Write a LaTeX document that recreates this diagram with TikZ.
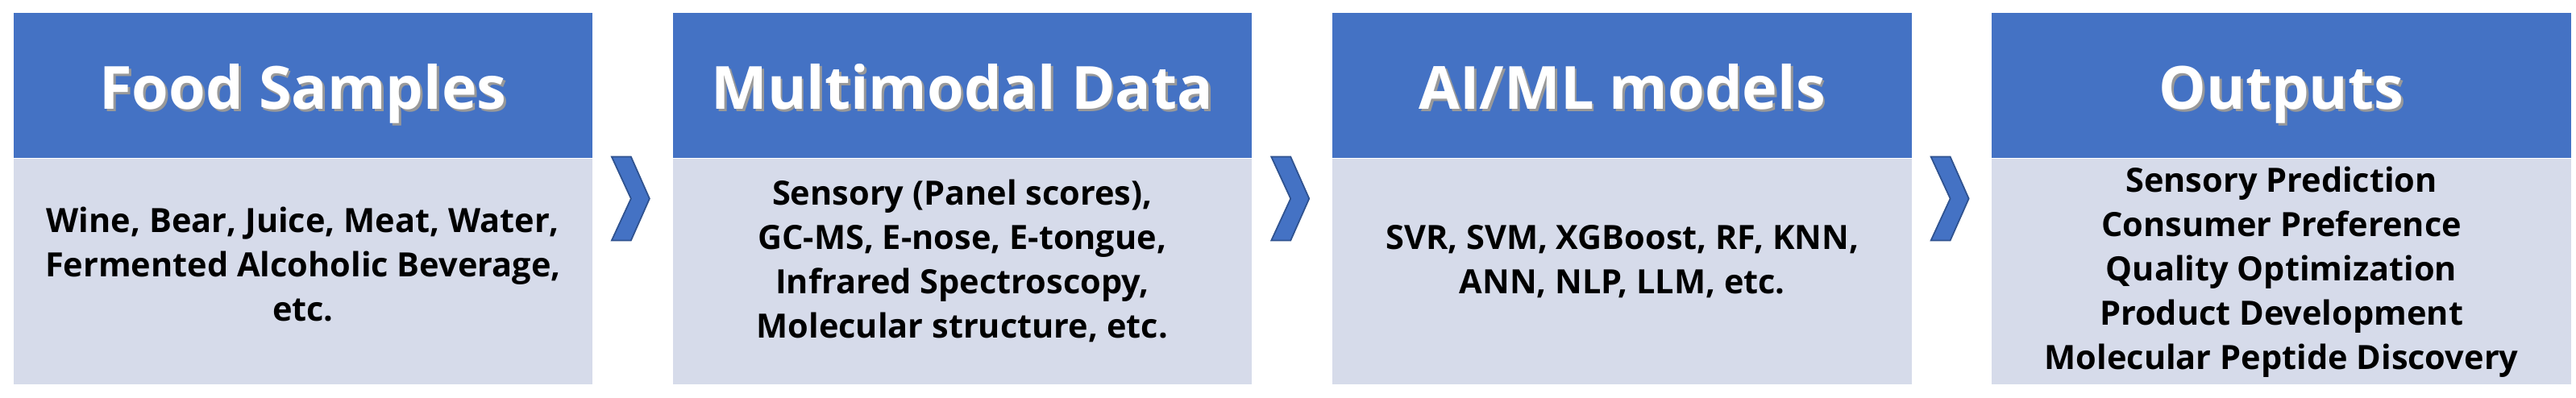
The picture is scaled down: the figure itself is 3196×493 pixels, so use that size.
\documentclass[tikz,border=0pt]{standalone}
\usepackage{fontspec}
\setmainfont{Open Sans}
\usetikzlibrary{calc,positioning}
\definecolor{hdblue}{HTML}{4472C4}
\definecolor{bdgray}{HTML}{D6DBEA}
\definecolor{chevline}{HTML}{2F528F}
\newcommand{\shadowed}[1]{\makebox[0pt][l]{\kern0.8pt\raisebox{-0.8pt}{\textcolor{black!40}{#1}}}#1}

\begin{document}
\begin{tikzpicture}[x=0.01cm, y=-0.01cm,
	head/.style={fill=hdblue, text=white, inner sep=0pt, minimum width=7.18cm, minimum height=1.8cm, text height=17pt, text depth=0pt, font=\bfseries\fontsize{21}{24}\selectfont},
	body/.style={fill=bdgray, inner sep=0pt, minimum width=7.18cm, minimum height=2.8cm},
	txt/.style={align=center, inner sep=0pt, anchor=north, font=\bfseries\fontsize{11.8}{15.6}\selectfont},
	chev/.style={fill=hdblue, draw=chevline, line width=0.5pt}]
	\useasboundingbox (0,0) rectangle (3196,493);
	% header row
	\node[head, anchor=north west] (hd1) at (16,15) {\shadowed{Food Samples}};
	\node[head, right=0.98cm of hd1] (hd2) {\shadowed{Multimodal Data}};
	\node[head, right=0.99cm of hd2] (hd3) {\shadowed{AI/ML models}};
	\node[head, right=0.98cm of hd3] (hd4) {\shadowed{Outputs}};
	% bodies
	\node[body, below=0pt of hd1] (bd1) {};
	\node[body, below=0pt of hd2] (bd2) {};
	\node[body, below=0pt of hd3] (bd3) {};
	\node[body, below=0pt of hd4] (bd4) {};
	\node[txt] (tx1) at ($(bd1.north)+(0,60)$) {Wine, Bear, Juice, Meat, Water,\\Fermented Alcoholic Beverage,\\etc.};
	\node[txt] (tx2) at ($(bd2.north)+(0,26)$) {Sensory (Panel scores),\\GC-MS, E-nose, E-tongue,\\Infrared Spectroscopy,\\Molecular structure, etc.};
	\node[txt] (tx3) at ($(bd3.north)+(0,82)$) {SVR, SVM, XGBoost, RF, KNN,\\ANN, NLP, LLM, etc.};
	\node[txt] (tx4) at ($(bd4.north)+(0,10)$) {Sensory Prediction\\Consumer Preference\\Quality Optimization\\Product Development\\Molecular Peptide Discovery};
	% chevrons between the boxes
	\foreach \a/\b in {bd1/bd2, bd2/bd3, bd3/bd4}{
		\coordinate (m) at ($(\a.north east)!0.5!(\b.north west)$);
		\draw[chev] ($(m)+(-26,-2)$) -- ($(m)+(-2,-2)$) -- ($(m)+(21,50)$) -- ($(m)+(-2,102)$) -- ($(m)+(-26,102)$) -- ($(m)+(-2,50)$) -- cycle;
	}
\end{tikzpicture}
\end{document}
